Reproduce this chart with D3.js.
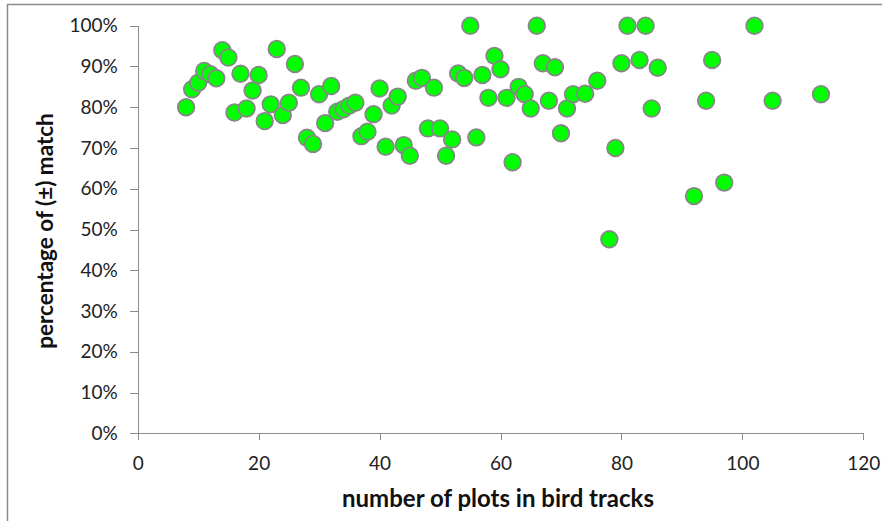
<!DOCTYPE html>
<html>
<head>
<meta charset="utf-8">
<script src="https://cdn.jsdelivr.net/npm/d3@7"></script>
<style>
  html, body { margin: 0; padding: 0; background: #fff; }
  svg { display: block; }
  .axis text { font-family: Lato, "Open Sans", sans-serif; font-size: 19px; fill: #222; }
  .axis path, .axis line { stroke: #8c8c8c; stroke-width: 1; shape-rendering: crispEdges; }
  .title { font-family: Lato, "Open Sans", sans-serif; font-weight: bold; fill: #111; }
</style>
</head>
<body>
<svg id="chart" width="882" height="521"></svg>
<script>
// Number of plots in each bird track
const plots = [
  8, 9, 10, 11, 12, 13, 14, 15, 16, 17, 18, 19, 20, 21, 22, 23, 24, 25, 26, 27,
  28, 29, 30, 31, 32, 33, 34, 35, 36, 37, 38, 39, 40, 41, 42, 43, 44, 45, 46, 47,
  48, 49, 50, 51, 52, 53, 54, 55, 56, 57, 58, 59, 60, 61, 62, 63, 64, 65, 66, 67,
  68, 69, 70, 71, 72, 74, 76, 78, 79, 80, 81, 83, 84, 85, 86, 92, 94, 95, 97, 102,
  105, 113
];
// Share of (±) matches for each track, as a fraction
const matchShare = [
  0.800, 0.844, 0.860, 0.889, 0.881, 0.871, 0.940, 0.922, 0.787, 0.882, 0.797, 0.841, 0.879, 0.766, 0.807, 0.943, 0.781, 0.811, 0.906, 0.848,
  0.725, 0.710, 0.832, 0.761, 0.852, 0.789, 0.795, 0.804, 0.811, 0.729, 0.740, 0.783, 0.846, 0.703, 0.804, 0.826, 0.707, 0.681, 0.865, 0.872,
  0.748, 0.848, 0.748, 0.681, 0.721, 0.883, 0.872, 1.000, 0.726, 0.879, 0.823, 0.926, 0.893, 0.823, 0.665, 0.850, 0.832, 0.797, 1.000, 0.908,
  0.816, 0.898, 0.736, 0.797, 0.832, 0.833, 0.865, 0.476, 0.700, 0.908, 1.000, 0.916, 1.000, 0.797, 0.897, 0.582, 0.816, 0.916, 0.615, 1.000,
  0.816, 0.832
];
const xTicks = [0, 20, 40, 60, 80, 100, 120];
const yTicks = [0, 0.1, 0.2, 0.3, 0.4, 0.5, 0.6, 0.7, 0.8, 0.9, 1.0];
const xTitle = "number of plots in bird tracks";
const yTitle = "percentage of (±) match";

const svg = d3.select("#chart");

// Outer chart frame (left and top edges visible)
svg.append("path")
  .attr("d", "M7.5,521V4.5H882")
  .attr("fill", "none")
  .attr("stroke", "#8a8a8a")
  .attr("stroke-width", 1.5);

const x = d3.scaleLinear().domain([0, 120]).range([137.7, 863.3]);
const y = d3.scaleLinear().domain([0, 1]).range([433.3, 25.7]);

const xAxis = svg.append("g")
  .attr("class", "axis")
  .attr("transform", `translate(0,${y(0)})`)
  .call(d3.axisBottom(x).tickValues(xTicks).tickSize(7).tickSizeOuter(0).tickPadding(16).tickFormat(d3.format("d")));

const yAxis = svg.append("g")
  .attr("class", "axis")
  .attr("transform", `translate(${x(0)},0)`)
  .call(d3.axisLeft(y).tickValues(yTicks).tickSize(8).tickSizeOuter(0).tickPadding(12).tickFormat(d3.format(".0%")));

// The x axis line runs left to meet the y tick marks
xAxis.select(".domain").attr("d", `M${x(0) - 7},0H${x(120)}`);

// Data points
svg.append("g")
  .selectAll("circle")
  .data(plots.map((p, i) => ({ p, v: matchShare[i] })))
  .join("circle")
  .attr("cx", d => x(d.p))
  .attr("cy", d => y(d.v))
  .attr("r", 8.3)
  .attr("fill", "#00ff00")
  .attr("stroke", "#878787")
  .attr("stroke-width", 1.8);

// Axis titles
svg.append("text")
  .attr("class", "title")
  .attr("x", 498)
  .attr("y", 507)
  .attr("text-anchor", "middle")
  .attr("font-size", 24)
  .text(xTitle);

svg.append("text")
  .attr("class", "title")
  .attr("transform", `translate(53,231) rotate(-90)`)
  .attr("text-anchor", "middle")
  .attr("font-size", 22.5)
  .text(yTitle);
</script>
</body>
</html>
